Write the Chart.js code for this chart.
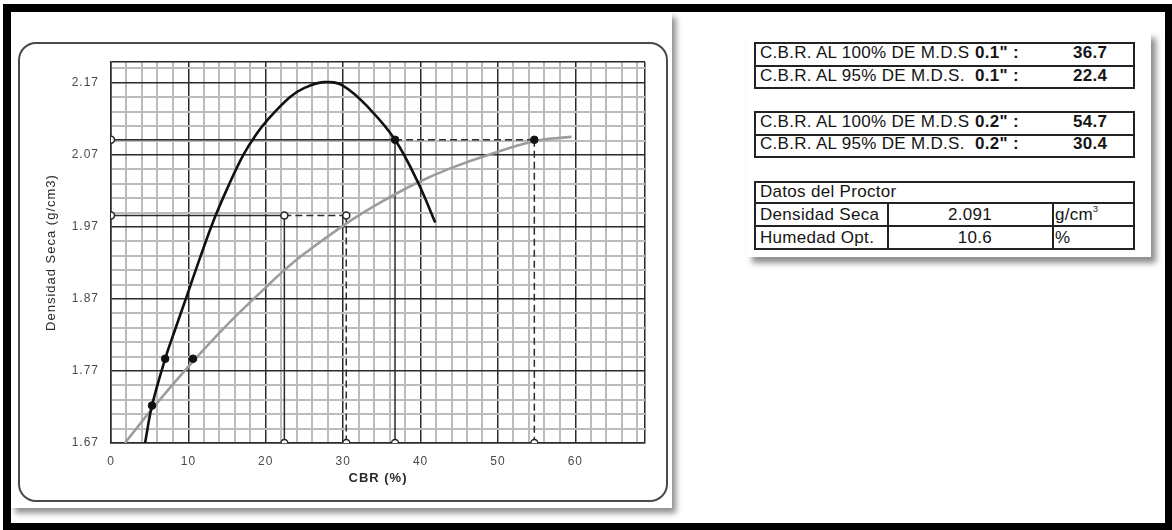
<!DOCTYPE html>
<html>
<head>
<meta charset="utf-8">
<script src="https://cdn.jsdelivr.net/npm/chart.js@4.4.1/dist/chart.umd.min.js"></script>
<style>
  html, body { margin: 0; padding: 0; background: #fff; }
  #page { position: relative; width: 1172px; height: 530px; overflow: hidden; background: #fff;
          font-family: 'Liberation Sans', Arial, sans-serif; }
  #frame { position: absolute; left: 3px; top: 4px; width: 1169px; height: 526px; background: #000; }
  #inner { position: absolute; left: 11px; top: 12px; width: 1154px; height: 511px; background: #fff; }
  #card { position: absolute; left: 11px; top: 12px; width: 661px; height: 496px; background: #fff;
          box-shadow: 4px 5px 6px rgba(0,0,0,.45); }
  #plotbox { position: absolute; left: 7px; top: 30px; width: 650px; height: 460px;
             border: 2px solid #4a4a4a; border-radius: 18px; box-sizing: border-box; }
  #chart { position: absolute; left: 0; top: 0; }
  #info { position: absolute; left: 747px; top: 32px; width: 404px; height: 225px; background: #fff;
          box-shadow: 5px 6px 6px rgba(0,0,0,.45); }
  .box { position: absolute; border: 2px solid #222; box-sizing: border-box; }
  .hl { position: absolute; height: 2px; background: #222; }
  .vl { position: absolute; width: 2px; background: #222; }
  .t { position: absolute; font-size: 17px; line-height: 17px; letter-spacing: .3px; color: #151515; white-space: nowrap; }
  .b { font-weight: bold; }
  .r { text-align: right; }
  sup { font-size: 9px; line-height: 0; vertical-align: 8px; letter-spacing: 0; }
</style>
</head>
<body>
<div id="page">
  <div id="frame"></div>
  <div id="inner"></div>
  <div id="card">
    <div id="plotbox"></div>
    <canvas id="chart" width="661" height="496"></canvas>
  </div>
  <div id="info"></div>

  <!-- CBR 0.1" -->
  <div class="box" style="left:754px;top:42px;width:381px;height:47px"></div>
  <div class="hl" style="left:754px;top:65px;width:381px"></div>
  <div class="t" id="l1" style="left:760px;top:44px"></div>
  <div class="t b" id="k1" style="left:975px;top:44px"></div>
  <div class="t b" id="v1" style="left:1073px;top:44px"></div>
  <div class="t" id="l2" style="left:760px;top:66.5px"></div>
  <div class="t b" id="k2" style="left:975px;top:66.5px"></div>
  <div class="t b" id="v2" style="left:1073px;top:66.5px"></div>

  <!-- CBR 0.2" -->
  <div class="box" style="left:754px;top:111px;width:381px;height:47px"></div>
  <div class="hl" style="left:754px;top:134px;width:381px"></div>
  <div class="t" id="l3" style="left:760px;top:112.5px"></div>
  <div class="t b" id="k3" style="left:975px;top:112.5px"></div>
  <div class="t b" id="v3" style="left:1073px;top:112.5px"></div>
  <div class="t" id="l4" style="left:760px;top:135px"></div>
  <div class="t b" id="k4" style="left:975px;top:135px"></div>
  <div class="t b" id="v4" style="left:1073px;top:135px"></div>

  <!-- Proctor -->
  <div class="box" style="left:754px;top:181px;width:381px;height:69px"></div>
  <div class="hl" style="left:754px;top:202px;width:381px"></div>
  <div class="hl" style="left:754px;top:225px;width:381px"></div>
  <div class="vl" style="left:887px;top:203px;height:46px"></div>
  <div class="vl" style="left:1052px;top:203px;height:46px"></div>
  <div class="t" style="left:760px;top:183px">Datos del Proctor</div>
  <div class="t" style="left:760px;top:205.5px">Densidad Seca</div>
  <div class="t r" id="pd" style="left:900px;width:92px;top:205.5px"></div>
  <div class="t" style="left:1055px;top:205.5px">g/cm<sup>3</sup></div>
  <div class="t" style="left:760px;top:229px">Humedad Opt.</div>
  <div class="t r" id="ph" style="left:900px;width:92px;top:229px"></div>
  <div class="t" style="left:1055px;top:229px">%</div>
</div>

<script>
// Axis ticks
const xMajorTicks = [0, 10, 20, 30, 40, 50, 60];
const yMajorTicks = [1.67, 1.77, 1.87, 1.97, 2.07, 2.17];
const xMinorStep = 2;
const yMinorStep = 0.02;
const xMin = 0, xMax = 69;
const yMin = 1.67, yMax = 2.199;

// CBR curve at 0.1" penetration (black)
const cbr01 = [4.4, 5.3, 7.0, 8.3, 9.6, 11.5, 13.45, 15.3, 17.1, 18.6, 20.1, 23.1, 25.0, 27.5, 30.0, 33.5, 36.7, 39.7, 41.9];
const dens01 = [1.670, 1.722, 1.787, 1.828, 1.868, 1.927, 1.984, 2.030, 2.070, 2.096, 2.117, 2.150, 2.163, 2.171, 2.166, 2.133, 2.091, 2.031, 1.976];

// CBR curve at 0.2" penetration (grey)
const cbr02 = [1.8, 5.3, 10.0, 15.0, 20.0, 22.4, 25.0, 30.3, 35.0, 39.7, 44.0, 49.0, 54.7, 59.5];
const dens02 = [1.670, 1.717, 1.776, 1.834, 1.886, 1.910, 1.933, 1.974, 2.005, 2.032, 2.052, 2.071, 2.089, 2.095];

// Specimen points
const specCbr = [5.3, 7.0, 36.7, 10.6, 54.7];
const specDens = [1.722, 1.787, 2.091, 1.787, 2.091];

// Proctor results and design CBR values
const maxDryDensity = 2.091;
const optMoisture = 10.6;
const density95 = 1.986;
const cbr100_01 = 36.7, cbr95_01 = 22.4;
const cbr100_02 = 54.7, cbr95_02 = 30.4;

// Table texts
const fmt1 = v => v.toFixed(1);
document.getElementById('l1').textContent = 'C.B.R. AL 100% DE M.D.S';
document.getElementById('l2').textContent = 'C.B.R. AL 95% DE M.D.S.';
document.getElementById('l3').textContent = 'C.B.R. AL 100% DE M.D.S';
document.getElementById('l4').textContent = 'C.B.R. AL 95% DE M.D.S.';
document.getElementById('k1').textContent = '0.1" :';
document.getElementById('k2').textContent = '0.1" :';
document.getElementById('k3').textContent = '0.2" :';
document.getElementById('k4').textContent = '0.2" :';
document.getElementById('v1').textContent = fmt1(cbr100_01);
document.getElementById('v2').textContent = fmt1(cbr95_01);
document.getElementById('v3').textContent = fmt1(cbr100_02);
document.getElementById('v4').textContent = fmt1(cbr95_02);
document.getElementById('pd').textContent = maxDryDensity.toFixed(3);
document.getElementById('ph').textContent = fmt1(optMoisture);

const pts = (xs, ys) => xs.map((x, i) => ({ x, y: ys[i] }));
const seg = (x1, y1, x2, y2) => [{ x: x1, y: y1 }, { x: x2, y: y2 }];
const near = (v, arr) => arr.some(m => Math.abs(m - v) < 1e-6);

const DARK = '#2b2b2b';
const MINOR = '#bcbcbc';

function refLine(data, dashed) {
  return {
    data, showLine: true, pointRadius: 0, borderColor: DARK, borderWidth: 1.5,
    borderDash: dashed ? [7, 4] : [], tension: 0, order: 6
  };
}

const openX = [xMin, xMin, cbr95_01, cbr95_02, cbr95_01, cbr95_02, cbr100_01, cbr100_02];
const openY = [maxDryDensity, density95, density95, density95, yMin, yMin, yMin, yMin];

const datasets = [
  { data: pts(specCbr, specDens), pointRadius: 3.8, pointBackgroundColor: '#111', pointBorderColor: '#111',
    pointBorderWidth: 1, showLine: false, order: 0 },
  { data: pts(openX, openY), pointRadius: 3.5, pointBackgroundColor: '#fff', pointBorderColor: '#222',
    pointBorderWidth: 1.5, showLine: false, order: 1 },
  { data: pts(cbr01, dens01), showLine: true, pointRadius: 0, borderColor: '#111', borderWidth: 2.6,
    tension: 0.4, order: 2 },
  { data: pts(cbr02, dens02), showLine: true, pointRadius: 0, borderColor: '#9c9c9c', borderWidth: 2.6,
    tension: 0.4, order: 3 },
  refLine(seg(xMin, maxDryDensity, cbr100_01, maxDryDensity), false),
  refLine(seg(cbr100_01, maxDryDensity, cbr100_01, yMin), false),
  refLine(seg(cbr100_01, maxDryDensity, cbr100_02, maxDryDensity), true),
  refLine(seg(cbr100_02, maxDryDensity, cbr100_02, yMin), true),
  refLine(seg(xMin, density95, cbr95_01, density95), false),
  refLine(seg(cbr95_01, density95, cbr95_01, yMin), false),
  refLine(seg(cbr95_01, density95, cbr95_02, density95), true),
  refLine(seg(cbr95_02, density95, cbr95_02, yMin), true)
];

const letterSpacing = {
  id: 'letterSpacing',
  beforeDraw(chart) { chart.ctx.letterSpacing = '1px'; }
};

function gridStyle(majors, maxV) {
  const strong = v => near(v, majors) || Math.abs(v - maxV) < 1e-6;
  return {
    color: c => (c.tick && strong(c.tick.value)) ? DARK : MINOR,
    lineWidth: c => (c.tick && strong(c.tick.value)) ? 1.5 : 2,
    drawTicks: false
  };
}

new Chart(document.getElementById('chart'), {
  type: 'scatter',
  data: { datasets },
  plugins: [letterSpacing],
  options: {
    responsive: false,
    animation: false,
    devicePixelRatio: 1,
    layout: { padding: { left: 0, top: 50, right: 27, bottom: 0 } },
    plugins: { legend: { display: false }, tooltip: { enabled: false } },
    scales: {
      x: {
        type: 'linear', min: xMin, max: xMax,
        afterBuildTicks: s => {
          const t = [];
          for (let v = xMin; v < xMax; v += xMinorStep) t.push({ value: v });
          t.push({ value: xMax });
          s.ticks = t;
        },
        afterFit: s => { s.height = 65; },
        ticks: {
          autoSkip: false, maxRotation: 0, padding: 11, color: '#4a4a4a',
          font: { family: 'Liberation Sans', size: 12 },
          callback: v => near(v, xMajorTicks) ? String(v) : ''
        },
        grid: gridStyle(xMajorTicks, xMax),
        border: { display: true, color: DARK, width: 1.5 },
        title: {
          display: true, text: 'CBR (%)', color: '#2a2a2a',
          font: { family: 'Liberation Sans', size: 13, weight: 'bold' },
          padding: { top: 0, bottom: 22 }
        }
      },
      y: {
        type: 'linear', min: yMin, max: yMax,
        afterBuildTicks: s => {
          const t = [];
          for (let i = 0; yMin + i * yMinorStep < yMax - 1e-9; i++) t.push({ value: +(yMin + i * yMinorStep).toFixed(3) });
          t.push({ value: yMax });
          s.ticks = t;
        },
        afterFit: s => { s.width = 100; },
        ticks: {
          autoSkip: false, padding: 12, color: '#4a4a4a',
          font: { family: 'Liberation Sans', size: 12 },
          callback: v => near(v, yMajorTicks) ? v.toFixed(2) : ''
        },
        grid: gridStyle(yMajorTicks, yMax),
        border: { display: true, color: DARK, width: 1.5 },
        title: {
          display: true, text: 'Densidad Seca (g/cm3)', color: '#2a2a2a',
          font: { family: 'Liberation Sans', size: 13 },
          padding: { top: 33, bottom: 0 }
        }
      }
    }
  }
});
</script>
</body>
</html>
